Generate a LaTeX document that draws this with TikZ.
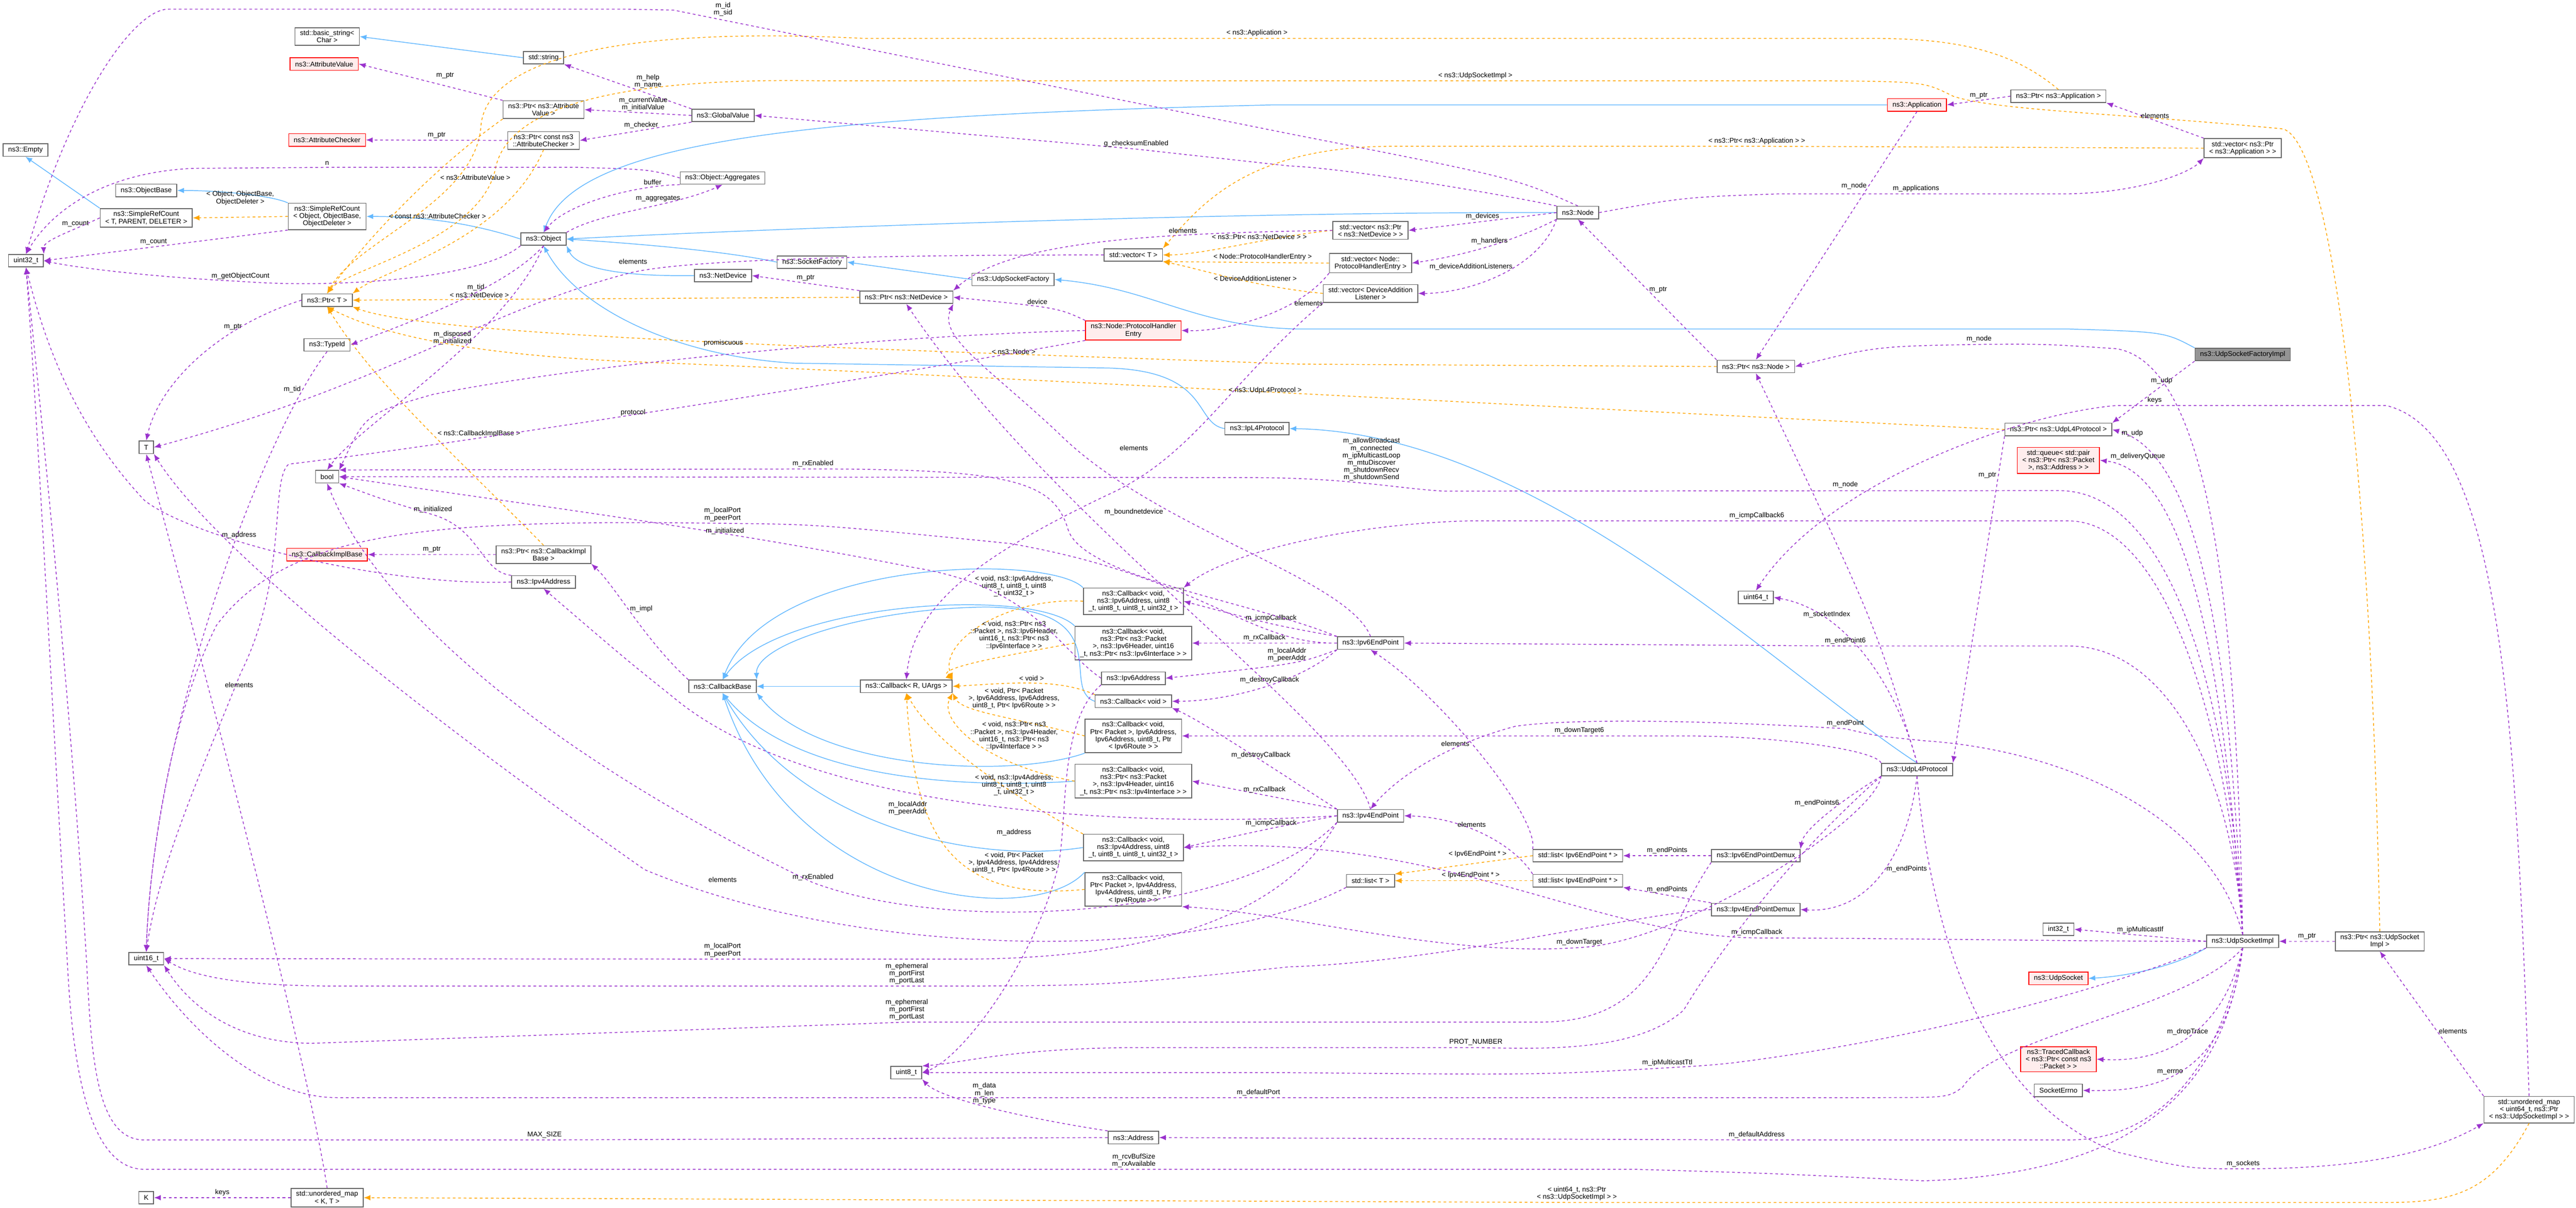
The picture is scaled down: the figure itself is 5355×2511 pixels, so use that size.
\documentclass[tikz,border=0pt]{standalone}
\usepackage{fontspec}
\setmainfont{Liberation Sans}
\usetikzlibrary{arrows.meta}
\definecolor{depc}{HTML}{9A32CD}
\definecolor{inhc}{HTML}{63B8FF}
\definecolor{tplc}{HTML}{FFA500}
\newcommand{\dfont}{\fontsize{4.1}{4.3}\selectfont}
\tikzset{
  box/.style={rectangle, draw=black!60, fill=white, font=\dfont, align=center, inner xsep=3pt, inner ysep=1.6pt, minimum height=0.26cm, line width=0.5pt},
  redbox/.style={box, draw=red, fill=red!7},
  curbox/.style={box, fill=black!42},
  use/.style={draw=depc, dashed, dash pattern=on 1.6pt off 1.6pt, line width=0.45pt, -{Latex[length=4pt,width=3.2pt]}},
  inh/.style={draw=inhc, line width=0.45pt, -{Latex[length=4pt,width=3.2pt]}},
  tpl/.style={draw=tplc, dashed, dash pattern=on 1.6pt off 1.6pt, line width=0.45pt, -{Latex[length=4pt,width=3.2pt]}},
  lbl/.style={font=\dfont, align=center, inner sep=1pt, text=black}
}
\begin{document}
\begin{tikzpicture}[x=0.01cm, y=0.01cm]
  \useasboundingbox (0,0) rectangle (5355,-2511);

  % left columns
  \node (bstr)    [box]    at (680,-76)   {std::basic\_string<\\Char >};
  \node (str)     [box]    at (1130,-120) {std::string};
  \node (attval)  [redbox] at (674,-133)  {ns3::AttributeValue};
  \node (pattval) [box]    at (1130,-228) {ns3::Ptr< ns3::Attribute\\Value >};
  \node (attchk)  [redbox] at (680,-291)  {ns3::AttributeChecker};
  \node (pattchk) [box]    at (1130,-292) {ns3::Ptr< const ns3\\::AttributeChecker >};
  \node (empty)   [box]    at (53,-312)   {ns3::Empty};
  \node (objbase) [box]    at (304,-396)  {ns3::ObjectBase};
  \node (srcT)    [box]    at (304,-453)  {ns3::SimpleRefCount\\< T, PARENT, DELETER >};
  \node (srcObj)  [box]    at (680,-450)  {ns3::SimpleRefCount\\< Object, ObjectBase,\\ObjectDeleter >};
  \node (obj)     [box]    at (1130,-497) {ns3::Object};
  \node (u32)     [box]    at (54,-542)   {uint32\_t};
  \node (ptrT)    [box]    at (680,-624)  {ns3::Ptr< T >};
  \node (typeid)  [box]    at (680,-717)  {ns3::TypeId};
  \node (T)       [box]    at (304,-930)  {T};
  \node (bool)    [box]    at (680,-991)  {bool};
  \node (cbimpl)  [redbox] at (680,-1153) {ns3::CallbackImplBase};
  \node (pcbimpl) [box]    at (1130,-1153) {ns3::Ptr< ns3::CallbackImpl\\Base >};
  \node (ip4addr) [box]    at (1130,-1210) {ns3::Ipv4Address};
  \node (u16)     [box]    at (304,-1993) {uint16\_t};
  \node (K)       [box]    at (304,-2490) {K};
  \node (umapKT)  [box]    at (680,-2490) {std::unordered\_map\\< K, T >};

  % middle columns
  \node (gval)    [box]    at (1503,-240) {ns3::GlobalValue};
  \node (aggr)    [box]    at (1502,-370) {ns3::Object::Aggregates};
  \node (sockfac) [box]    at (1688,-545) {ns3::SocketFactory};
  \node (netdev)  [box]    at (1503,-573) {ns3::NetDevice};
  \node (udpsf)   [box]    at (2106,-581) {ns3::UdpSocketFactory};
  \node (pnetdev) [box]    at (1884,-618) {ns3::Ptr< ns3::NetDevice >};
  \node (vecT)    [box]    at (2356,-530) {std::vector< T >};
  \node (phe)     [redbox] at (2356,-687) {ns3::Node::ProtocolHandler\\Entry};
  \node (ipl4)    [box]    at (2613,-891) {ns3::IpL4Protocol};
  \node (cbbase)  [box]    at (1502,-1427) {ns3::CallbackBase};
  \node (cbR)     [box]    at (1884,-1427) {ns3::Callback< R, UArgs >};
  \node (cb6icmp) [box]    at (2356,-1250) {ns3::Callback< void,\\ns3::Ipv6Address, uint8\\\_t, uint8\_t, uint8\_t, uint32\_t >};
  \node (cb6rx)   [box]    at (2356,-1337) {ns3::Callback< void,\\ns3::Ptr< ns3::Packet\\>, ns3::Ipv6Header, uint16\\\_t, ns3::Ptr< ns3::Ipv6Interface > >};
  \node (ip6addr) [box]    at (2356,-1410) {ns3::Ipv6Address};
  \node (cbvoid)  [box]    at (2356,-1458) {ns3::Callback< void >};
  \node (cb6route)[box]    at (2356,-1530) {ns3::Callback< void,\\Ptr< Packet >, Ipv6Address,\\Ipv6Address, uint8\_t, Ptr\\< Ipv6Route > >};
  \node (cb4rx)   [box]    at (2356,-1624) {ns3::Callback< void,\\ns3::Ptr< ns3::Packet\\>, ns3::Ipv4Header, uint16\\\_t, ns3::Ptr< ns3::Ipv4Interface > >};
  \node (cb4icmp) [box]    at (2356,-1762) {ns3::Callback< void,\\ns3::Ipv4Address, uint8\\\_t, uint8\_t, uint8\_t, uint32\_t >};
  \node (cb4route)[box]    at (2356,-1849) {ns3::Callback< void,\\Ptr< Packet >, Ipv4Address,\\Ipv4Address, uint8\_t, Ptr\\< Ipv4Route > >};
  \node (u8)      [box]    at (1884,-2230) {uint8\_t};
  \node (addr)    [box]    at (2356,-2365) {ns3::Address};

  % right columns
  \node (node)    [box]    at (3280,-442) {ns3::Node};
  \node (vecdev)  [box]    at (2849,-479) {std::vector< ns3::Ptr\\< ns3::NetDevice > >};
  \node (vechdl)  [box]    at (2849,-547) {std::vector< Node::\\ProtocolHandlerEntry >};
  \node (veclst)  [box]    at (2849,-610) {std::vector< DeviceAddition\\Listener >};
  \node (ep6)     [box]    at (2849,-1337) {ns3::Ipv6EndPoint};
  \node (ep4)     [box]    at (2849,-1696) {ns3::Ipv4EndPoint};
  \node (listT)   [box]    at (2849,-1831) {std::list< T >};
  \node (list6)   [box]    at (3280,-1779) {std::list< Ipv6EndPoint * >};
  \node (list4)   [box]    at (3280,-1831) {std::list< Ipv4EndPoint * >};
  \node (app)     [redbox] at (3985,-218) {ns3::Application};
  \node (pnode)   [box]    at (3650,-762) {ns3::Ptr< ns3::Node >};
  \node (u64)     [box]    at (3650,-1242) {uint64\_t};
  \node (demux6)  [box]    at (3650,-1779) {ns3::Ipv6EndPointDemux};
  \node (demux4)  [box]    at (3650,-1891) {ns3::Ipv4EndPointDemux};
  \node (udpl4)   [box]    at (3985,-1600) {ns3::UdpL4Protocol};
  \node (papp)    [box]    at (4279,-200) {ns3::Ptr< ns3::Application >};
  \node (vecapp)  [box]    at (4662,-308) {std::vector< ns3::Ptr\\< ns3::Application > >};
  \node (udpsfi)  [curbox] at (4662,-737) {ns3::UdpSocketFactoryImpl};
  \node (pudpl4)  [box]    at (4279,-893) {ns3::Ptr< ns3::UdpL4Protocol >};
  \node (queue)   [redbox] at (4279,-957) {std::queue< std::pair\\< ns3::Ptr< ns3::Packet\\>, ns3::Address > >};
  \node (i32)     [box]    at (4279,-1932) {int32\_t};
  \node (udpsock) [redbox] at (4279,-2034) {ns3::UdpSocket};
  \node (traced)  [redbox] at (4279,-2202) {ns3::TracedCallback\\< ns3::Ptr< const ns3\\::Packet > >};
  \node (errno)   [box]    at (4279,-2267) {SocketErrno};
  \node (sockimpl)[box]    at (4662,-1957) {ns3::UdpSocketImpl};
  \node (psockimpl)[box]   at (4947,-1957) {ns3::Ptr< ns3::UdpSocket\\Impl >};
  \node (umap)    [box, anchor=east] at (5352,-2307) {std::unordered\_map\\< uint64\_t, ns3::Ptr\\< ns3::UdpSocketImpl > >};

  % inheritance
  \draw [inh] (str.west) -- (bstr.east);
  \draw [inh] (srcT.north west) -- (empty.south);
  \draw [inh] (srcObj.north west) .. controls (560,-405) and (450,-396) .. (objbase.east);
  \draw [inh] (obj.west) .. controls (1000,-470) and (900,-450) .. (srcObj.east);
  \draw [inh] (app.west) -- (2650,-218) .. controls (1700,-240) and (1200,-290) .. (obj.north);
  \draw [inh] (node.west) .. controls (2500,-440) and (1500,-480) .. (obj.east);
  \draw [inh] (sockfac.west) .. controls (1500,-520) and (1300,-505) .. (obj.east);
  \draw [inh] (netdev.west) .. controls (1300,-575) and (1200,-560) .. (obj.south east);
  \draw [inh] (ipl4.west) .. controls (2480,-880) and (2520,-770) .. (2300,-765) -- (1650,-755) .. controls (1400,-740) and (1200,-640) .. (obj.south);
  \draw [inh] (udpsf.west) -- (sockfac.east);
  \draw [inh] (udpsfi.north west) .. controls (4500,-690) .. (4300,-684) -- (2700,-684) .. controls (2480,-680) and (2400,-600) .. (udpsf.east);
  \draw [inh] (udpl4.north) .. controls (3700,-1400) and (3200,-900) .. (ipl4.east);
  \draw [inh] (sockimpl.south west) .. controls (4520,-2010) and (4420,-2030) .. (udpsock.east);
  \draw [inh] (cbR.west) -- (cbbase.east);
  \draw [inh] (cb6icmp.north west) .. controls (2180,-1150) and (1600,-1160) .. (cbbase.north);
  \draw [inh] (cb6rx.north west) .. controls (2150,-1220) and (1620,-1250) .. (cbbase.north);
  \draw [inh] (cbvoid.west) .. controls (2200,-1430) and (2330,-1265) .. (2050,-1262) .. controls (1800,-1265) and (1570,-1340) .. (cbbase.north east);
  \draw [inh] (cb6route.south west) .. controls (2100,-1620) and (1700,-1600) .. (cbbase.south east);
  \draw [inh] (cb4rx.west) .. controls (2000,-1640) and (1650,-1620) .. (cbbase.south);
  \draw [inh] (cb4icmp.west) .. controls (2000,-1800) and (1650,-1700) .. (cbbase.south);
  \draw [inh] (cb4route.north west) .. controls (2150,-1930) and (1650,-1880) .. (cbbase.south);

  % templates
  \draw [tpl] (srcObj.west) -- node [lbl, above=6] {< Object, ObjectBase,\\ObjectDeleter >} (srcT.east);
  \draw [tpl] (pattval.south west) .. controls (900,-350) and (760,-500) .. node [lbl, pos=0.35, right=4] {< ns3::AttributeValue >} (ptrT.north);
  \draw [tpl] (pattchk.south) .. controls (1050,-500) and (800,-560) .. node [lbl, pos=0.3, left=2] {< const ns3::AttributeChecker >} (ptrT.north east);
  \draw [tpl] (pnetdev.west) -- node [lbl, pos=0.75, above] {< ns3::NetDevice >} (ptrT.east);
  \draw [tpl] (pnode.west) -- (2700,-757) .. controls (1800,-725) and (900,-700) .. (ptrT.south east);
  \path (2107,-731) node [lbl] {< ns3::Node >};
  \draw [tpl] (pudpl4.west) .. controls (3500,-860) and (1800,-770) .. (1340,-753) .. controls (1000,-740) and (800,-700) .. (ptrT.south);
  \path (2630,-812) node [lbl] {< ns3::UdpL4Protocol >};
  \draw [tpl] (pcbimpl.north) .. controls (950,-950) and (780,-800) .. node [lbl, pos=0.45, right=2] {< ns3::CallbackImplBase >} (ptrT.south);
  \draw [tpl] (papp.north) .. controls (4200,-120) and (4100,-80) .. (3900,-80) -- (2613,-80) node [lbl, above] {< ns3::Application >} -- (1800,-80) .. controls (1200,-50) and (1010,-150) .. (1000,-260) .. controls (990,-420) and (740,-500) .. (ptrT.north);
  \draw [tpl] (psockimpl.north) .. controls (4930,-1000) and (4850,-300) .. (4746,-268) .. controls (4400,-235) and (4150,-230) .. (4060,-200) .. controls (4000,-170) .. (3800,-168) -- (3067,-168) node [lbl, above] {< ns3::UdpSocketImpl >} -- (1700,-168) .. controls (1200,-160) and (1050,-250) .. (1030,-350) .. controls (1000,-500) and (720,-560) .. (ptrT.north);
  \draw [tpl] (vecdev.west) .. controls (2650,-490) and (2500,-530) .. node [lbl, pos=0.4, above] {< ns3::Ptr< ns3::NetDevice > >} (vecT.east);
  \draw [tpl] (vechdl.west) -- node [lbl, pos=0.4, above] {< Node::ProtocolHandlerEntry >} (vecT.south east);
  \draw [tpl] (veclst.west) .. controls (2600,-595) and (2500,-560) .. node [lbl, pos=0.35, above] {< DeviceAdditionListener >} (vecT.south east);
  \draw [tpl] (vecapp.west) -- (3652,-304) node [lbl, above] {< ns3::Ptr< ns3::Application > >} -- (2900,-304) .. controls (2600,-304) and (2500,-420) .. (vecT.north east);
  \draw [tpl] (cb6icmp.west) .. controls (2100,-1240) and (1950,-1330) .. (cbR.north east);
  \path (2108,-1219) node [lbl] {< void, ns3::Ipv6Address,\\uint8\_t, uint8\_t, uint8\\\_t, uint32\_t >};
  \draw [tpl] (cb6rx.west) .. controls (2050,-1370) and (1950,-1390) .. (cbR.north east);
  \path (2108,-1321) node [lbl] {< void, ns3::Ptr< ns3\\::Packet >, ns3::Ipv6Header,\\uint16\_t, ns3::Ptr< ns3\\::Ipv6Interface > >};
  \draw [tpl] (cbvoid.north west) .. controls (2200,-1410) and (2100,-1420) .. node [lbl, pos=0.5, above] {< void >} (cbR.east);
  \draw [tpl] (cb6route.west) .. controls (2100,-1490) and (2000,-1480) .. (cbR.south east);
  \path (2108,-1452) node [lbl] {< void, Ptr< Packet\\>, Ipv6Address, Ipv6Address,\\uint8\_t, Ptr< Ipv6Route > >};
  \draw [tpl] (cb4rx.west) .. controls (2050,-1590) and (1950,-1500) .. (cbR.south east);
  \path (2108,-1530) node [lbl] {< void, ns3::Ptr< ns3\\::Packet >, ns3::Ipv4Header,\\uint16\_t, ns3::Ptr< ns3\\::Ipv4Interface > >};
  \draw [tpl] (cb4icmp.north west) .. controls (2150,-1680) and (1950,-1560) .. (cbR.south);
  \path (2108,-1632) node [lbl] {< void, ns3::Ipv4Address,\\uint8\_t, uint8\_t, uint8\\\_t, uint32\_t >};
  \draw [tpl] (cb4route.west) .. controls (1950,-1880) and (1900,-1700) .. (cbR.south);
  \path (2108,-1794) node [lbl] {< void, Ptr< Packet\\>, Ipv4Address, Ipv4Address,\\uint8\_t, Ptr< Ipv4Route > >};
  \draw [tpl] (list6.west) -- node [lbl, pos=0.4, above=2] {< Ipv6EndPoint * >} (listT.north east);
  \draw [tpl] (list4.west) -- node [lbl, pos=0.45, above] {< Ipv4EndPoint * >} (listT.east);
  \draw [tpl] (umap.south) .. controls (5180,-2480) and (5100,-2500) .. (4960,-2500) -- (3278,-2500) node [lbl, above] {< uint64\_t, ns3::Ptr\\< ns3::UdpSocketImpl > >} -- (umapKT.east);

  % attribute and object members
  \draw [use] (pattval.north west) -- node [lbl, pos=0.4, above=3] {m\_ptr} (attval.east);
  \draw [use] (pattchk.west) -- node [lbl, above] {m\_ptr} (attchk.east);
  \draw [use] (gval.north west) -- node [lbl, pos=0.45, above right=-1] {m\_help\\m\_name} (str.south east);
  \draw [use] (gval.west) -- node [lbl, pos=0.45, above] {m\_currentValue\\m\_initialValue} (pattval.east);
  \draw [use] (gval.south west) -- node [lbl, pos=0.45, above] {m\_checker} (pattchk.east);
  \draw [use] (srcT.west) .. controls (150,-480) and (90,-500) .. node [lbl, pos=0.3, above] {m\_count} (u32.north east);
  \draw [use] (srcObj.south west) -- node [lbl, pos=0.55, above] {m\_count} (u32.east);
  \draw [use] (obj.south west) .. controls (1000,-580) and (700,-600) .. (500,-585) node [lbl, above] {m\_getObjectCount} .. controls (300,-575) and (150,-555) .. (u32.east);
  \draw [use] (obj.south) .. controls (1050,-600) and (850,-670) .. node [lbl, pos=0.4, above] {m\_tid} (typeid.east);
  \draw [use] (aggr.west) .. controls (1350,-352) .. (1200,-348) -- (680,-348) node [lbl, above] {n} -- (400,-350) .. controls (200,-360) and (100,-450) .. (u32.north);
  \draw [use] (aggr.south west) .. controls (1330,-385) and (1180,-420) .. node [lbl, pos=0.2, above] {buffer} (obj.north);
  \draw [use] (obj.north east) .. controls (1250,-440) and (1400,-430) .. node [lbl, pos=0.75, left] {m\_aggregates} (aggr.south);
  \draw [use] (obj.south) .. controls (1050,-700) and (750,-880) .. node [lbl, pos=0.35, left] {m\_disposed\\m\_initialized} (bool.north);
  \draw [use] (ptrT.west) .. controls (450,-680) and (330,-800) .. node [lbl, pos=0.3, above] {m\_ptr} (T.north);
  \draw [use] (typeid.south) .. controls (550,-900) and (320,-1500) .. node [lbl, pos=0.12, left] {m\_tid} (u16.north);
  \draw [use] (pcbimpl.west) -- node [lbl, above] {m\_ptr} (cbimpl.east);
  \draw [use] (cbbase.north west) .. controls (1340,-1330) and (1280,-1220) .. node [lbl, pos=0.55, right] {m\_impl} (pcbimpl.south east);
  \draw [use] (ip4addr.west) .. controls (800,-1220) and (400,-1120) .. (300,-1040) .. controls (150,-880) and (90,-700) .. (u32.south);
  \path (497,-1113) node [lbl] {m\_address};
  \draw [use] (ip4addr.north west) .. controls (1000,-1190) and (1000,-1100) .. (900,-1070) node [lbl, above] {m\_initialized} .. controls (800,-1040) .. (bool.south east);
  \draw [use] (ip6addr.west) .. controls (2200,-1350) and (2150,-1220) .. (1900,-1180) .. controls (1500,-1100) and (1100,-1050) .. (bool.east);
  \path (1507,-1104) node [lbl] {m\_initialized};
  \draw [use] (ip6addr.south west) .. controls (2200,-1500) and (2220,-1700) .. (2200,-1800) .. controls (2150,-2000) and (2000,-2200) .. (u8.east);
  \path (2108,-1731) node [lbl] {m\_address};
  \draw [use] (addr.north west) .. controls (2100,-2320) and (1950,-2280) .. node [lbl, pos=0.5, above] {m\_data\\m\_len\\m\_type} (u8.south east);
  \draw [use] (addr.west) -- (1132,-2370) node [lbl, above] {MAX\_SIZE} -- (300,-2370) .. controls (200,-2370) and (190,-2200) .. (180,-2000) .. controls (150,-1500) and (90,-900) .. (u32.south);

  % Node members
  \draw [use] (node.north) .. controls (3150,-370) .. (2680,-278) -- (1400,-21) .. controls (1350,-19) .. (1300,-19) -- (350,-19) .. controls (280,-19) and (150,-200) .. (u32.north);
  \path (1503,-19) node [lbl] {m\_id\\m\_sid};
  \draw [use] (node.north west) .. controls (3100,-400) and (2800,-350) .. (2680,-345) -- (2362,-310) node [lbl, above] {g\_checksumEnabled} -- (gval.east);
  \draw [use] (node.west) -- node [lbl, pos=0.5, above] {m\_devices} (vecdev.east);
  \draw [use] (node.south west) .. controls (3150,-500) and (3050,-530) .. node [lbl, pos=0.5, above] {m\_handlers} (vechdl.east);
  \draw [use] (node.south west) .. controls (3200,-560) and (3050,-610) .. node [lbl, pos=0.4, left] {m\_deviceAdditionListeners} (veclst.east);
  \draw [use] (node.east) .. controls (3500,-410) .. (3700,-403) -- (3983,-403) node [lbl, above] {m\_applications} -- (4300,-403) .. controls (4450,-400) and (4550,-360) .. (vecapp.south west);
  \draw [use] (app.south) -- node [lbl, pos=0.3, left] {m\_node} (pnode.north);
  \draw [use] (papp.west) -- node [lbl, above] {m\_ptr} (app.east);
  \draw [use] (vecapp.north west) -- node [lbl, pos=0.5, above] {elements} (papp.south east);
  \draw [use] (pnode.north west) -- node [lbl, pos=0.5, right] {m\_ptr} (node.south);
  \draw [use] (pnetdev.north west) -- node [lbl, above] {m\_ptr} (netdev.east);
  \draw [use] (vecdev.west) .. controls (2400,-485) and (2100,-500) .. node [lbl, pos=0.3, above] {elements} (pnetdev.north east);
  \draw [use] (phe.north west) .. controls (2200,-640) .. node [lbl, pos=0.6, above] {device} (pnetdev.east);
  \draw [use] (phe.west) .. controls (1800,-700) and (1200,-760) .. (900,-820) .. controls (760,-860) .. (bool.north east);
  \path (1504,-713) node [lbl] {promiscuous};
  \draw [use] (phe.south west) .. controls (1800,-790) and (900,-930) .. (600,-965) .. controls (560,-1000) and (600,-1200) .. (500,-1400) .. controls (420,-1600) and (330,-1800) .. (u16.north);
  \path (1316,-858) node [lbl] {protocol};
  \draw [use] (veclst.south west) .. controls (2550,-800) and (2480,-950) .. (2300,-1030) .. controls (2050,-1150) and (1900,-1250) .. (cbR.north);
  \path (2357,-931) node [lbl] {elements};
  \draw [use] (vechdl.south west) .. controls (2700,-650) and (2550,-690) .. node [lbl, pos=0.3, right] {elements} (phe.east);
  \draw [use] (vecT.west) .. controls (1800,-530) and (1400,-540) .. (1300,-570) .. controls (1000,-650) and (800,-800) .. (T.east);
  \path (1316,-544) node [lbl] {elements};
  \draw [use] (listT.south west) .. controls (2500,-2000) and (1800,-2000) .. (1340,-1808) .. controls (900,-1500) and (450,-1150) .. (T.south east);
  \path (1502,-1829) node [lbl] {elements};
  \draw [use] (umapKT.north) .. controls (640,-2200) and (400,-1300) .. (T.south);
  \path (497,-1424) node [lbl] {elements};
  \draw [use] (umapKT.west) -- node [lbl, above] {keys} (K.east);

  % end points
  \draw [use] (ep6.south west) .. controls (2700,-1380) .. node [lbl, pos=0.5, above] {m\_localAddr\\m\_peerAddr} (ip6addr.east);
  \draw [use] (ep6.west) -- node [lbl, pos=0.5, above] {m\_rxCallback} (cb6rx.east);
  \draw [use] (ep6.north west) .. controls (2650,-1300) .. node [lbl, pos=0.5, above] {m\_icmpCallback} (cb6icmp.east);
  \draw [use] (ep6.south west) .. controls (2700,-1420) and (2550,-1458) .. node [lbl, pos=0.45, above] {m\_destroyCallback} (cbvoid.east);
  \draw [use] (ep6.north) .. controls (2800,-1200) and (2400,-1100) .. (2200,-900) .. controls (2050,-760) and (1950,-700) .. (pnetdev.south east);
  \path (2357,-1064) node [lbl] {m\_boundnetdevice};
  \draw [use] (ep6.north west) .. controls (2600,-1250) and (2250,-1200) .. (2220,-1100) .. controls (2190,-1000) and (2100,-975) .. (1690,-975) node [lbl, above] {m\_rxEnabled} -- (bool.north east);
  \draw [use] (ep6.west) .. controls (2600,-1340) and (2500,-1200) .. (2100,-1130) .. controls (1700,-1090) .. (1502,-1088) node [lbl, above] {m\_localPort\\m\_peerPort} .. controls (900,-1080) and (600,-1100) .. (450,-1300) .. controls (350,-1500) and (310,-1800) .. (u16.north);
  \draw [use] (ep4.west) .. controls (2400,-1720) and (1700,-1700) .. (1400,-1450) .. controls (1300,-1370) .. (ip4addr.south);
  \path (1887,-1680) node [lbl] {m\_localAddr\\m\_peerAddr};
  \draw [use] (ep4.south west) .. controls (2700,-1850) and (2500,-1994) .. (2000,-1994) -- (1502,-1994) node [lbl, above] {m\_localPort\\m\_peerPort} -- (u16.east);
  \draw [use] (ep4.south west) .. controls (2600,-1900) and (2000,-1950) .. (1690,-1835) node [lbl, above] {m\_rxEnabled} .. controls (1200,-1600) and (800,-1300) .. (bool.south);
  \draw [use] (ep4.north) .. controls (2800,-1500) and (2200,-1100) .. (pnetdev.south);
  \draw [use] (ep4.west) .. controls (2650,-1720) .. node [lbl, pos=0.5, above] {m\_icmpCallback} (cb4icmp.east);
  \draw [use] (ep4.north west) -- node [lbl, pos=0.5, above] {m\_rxCallback} (cb4rx.east);
  \draw [use] (ep4.north west) .. controls (2650,-1600) and (2500,-1500) .. node [lbl, pos=0.4, above] {m\_destroyCallback} (cbvoid.south east);
  \draw [use] (list6.north west) .. controls (3200,-1700) and (3000,-1450) .. node [lbl, pos=0.55, left] {elements} (ep6.south);
  \draw [use] (list4.north west) .. controls (3150,-1760) and (3050,-1700) .. node [lbl, pos=0.6, above] {elements} (ep4.east);
  \draw [use] (demux6.west) -- node [lbl, above] {m\_endPoints} (list6.east);
  \draw [use] (demux4.north west) -- node [lbl, above] {m\_endPoints} (list4.south east);
  \draw [use] (demux6.south west) .. controls (3450,-1950) and (3450,-2125) .. (3200,-2125) -- (1885,-2125) node [lbl, above] {m\_ephemeral\\m\_portFirst\\m\_portLast} -- (650,-2169) .. controls (500,-2169) and (400,-2100) .. (u16.south east);
  \draw [use] (demux4.west) .. controls (3400,-1900) and (3000,-2000) .. (2680,-2010) .. controls (2300,-2050) .. (1885,-2050) node [lbl, above] {m\_ephemeral\\m\_portFirst\\m\_portLast} -- (700,-2050) .. controls (500,-2050) and (400,-2030) .. (u16.east);

  % UdpL4Protocol members
  \draw [use] (udpsfi.south west) -- node [lbl, pos=0.4, above] {m\_udp} (pudpl4.north east);
  \draw [use] (pudpl4.south west) -- node [lbl, pos=0.12, left] {m\_ptr} (udpl4.north east);
  \draw [use] (udpl4.north) .. controls (3900,-1300) .. (pnode.south);
  \path (3836,-1008) node [lbl] {m\_node};
  \draw [use] (udpl4.north) .. controls (3950,-1450) and (3850,-1270) .. node [lbl, pos=0.75, above] {m\_socketIndex} (u64.east);
  \draw [use] (udpl4.south west) .. controls (3850,-1650) and (3750,-1720) .. node [lbl, pos=0.4, left] {m\_endPoints6} (demux6.north east);
  \draw [use] (udpl4.south) .. controls (3970,-1750) and (3900,-1900) .. node [lbl, pos=0.5, right] {m\_endPoints} (demux4.east);
  \draw [use] (udpl4.north west) .. controls (3900,-1560) and (3700,-1530) .. (3500,-1530) -- (3283,-1530) node [lbl, above] {m\_downTarget6} -- (cb6route.east);
  \draw [use] (udpl4.south west) .. controls (3900,-1700) and (3500,-1960) .. (3283,-1970) node [lbl, above] {m\_downTarget} .. controls (3000,-1990) and (2700,-1900) .. (cb4route.south east);
  \draw [use] (udpl4.south west) .. controls (3700,-1800) and (3560,-2000) .. (3500,-2100) .. controls (3400,-2190) and (3200,-2180) .. (3068,-2178) node [lbl, above] {PROT\_NUMBER} -- (2350,-2178) .. controls (2100,-2180) and (2000,-2210) .. (u8.north east);
  \draw [use] (udpl4.south) .. controls (4020,-2000) and (4150,-2300) .. (4400,-2395) .. controls (4550,-2430) .. (4663,-2430) node [lbl, above] {m\_sockets} .. controls (4900,-2430) and (5050,-2400) .. (umap.south west);

  % UdpSocketImpl members
  \draw [use] (umap.north west) -- node [lbl, pos=0.45, right] {elements} (psockimpl.south);
  \draw [use] (umap.north) .. controls (5230,-1500) and (5200,-900) .. (4960,-843) -- (4479,-843) node [lbl, above] {keys} -- (4400,-843) .. controls (4200,-860) and (3800,-1000) .. (u64.north);
  \draw [use] (psockimpl.west) -- node [lbl, above] {m\_ptr} (sockimpl.east);
  \draw [use] (sockimpl.west) -- node [lbl, above] {m\_ipMulticastIf} (i32.east);
  \draw [use] (sockimpl.south) .. controls (4620,-2150) and (4500,-2210) .. node [lbl, pos=0.5, above] {m\_dropTrace} (traced.east);
  \draw [use] (sockimpl.south) .. controls (4630,-2230) and (4500,-2270) .. node [lbl, pos=0.6, above] {m\_errno} (errno.east);
  \draw [use] (sockimpl.north) .. controls (4640,-1500) and (4600,-950) .. node [lbl, pos=0.93, above] {m\_udp} (pudpl4.east);
  \draw [use] (sockimpl.north) .. controls (4630,-1500) and (4570,-980) .. node [lbl, pos=0.97, above right] {m\_deliveryQueue} (queue.east);
  \draw [use] (sockimpl.north) .. controls (4650,-1300) and (4600,-760) .. (4400,-725) .. controls (4250,-715) .. (4114,-716) node [lbl, above] {m\_node} .. controls (3900,-720) .. (pnode.east);
  \draw [use] (sockimpl.north) .. controls (4640,-1600) and (4500,-1343) .. (4300,-1343) -- (3836,-1343) node [lbl, above] {m\_endPoint6} -- (ep6.east);
  \draw [use] (sockimpl.north) .. controls (4630,-1400) and (4500,-1020) .. (4280,-1020) -- (3000,-1021) .. controls (2900,-1015) and (2800,-993) .. (2600,-993) -- (bool.east);
  \path (2851,-955) node [lbl] {m\_allowBroadcast\\m\_connected\\m\_ipMulticastLoop\\m\_mtuDiscover\\m\_shutdownRecv\\m\_shutdownSend};
  \draw [use] (sockimpl.north) .. controls (4630,-1500) and (4500,-1083) .. (4300,-1083) -- (3652,-1083) node [lbl, above] {m\_icmpCallback6} -- (3050,-1083) .. controls (2800,-1090) and (2550,-1150) .. (cb6icmp.north east);
  \draw [use] (sockimpl.west) .. controls (4300,-1957) and (3900,-1950) .. (3652,-1950) node [lbl, above] {m\_icmpCallback} .. controls (3300,-1945) and (3000,-1730) .. (cb4icmp.east);
  \draw [use] (sockimpl.north) .. controls (4600,-1700) and (4300,-1560) .. (4000,-1540) .. controls (3900,-1530) .. (3836,-1515) node [lbl, above] {m\_endPoint} .. controls (3500,-1495) and (3250,-1495) .. (3150,-1510) .. controls (3000,-1550) and (2900,-1620) .. (ep4.north);
  \draw [use] (sockimpl.south west) .. controls (4400,-2050) and (4000,-2160) .. (3600,-2210) .. controls (3550,-2215) .. (3466,-2220) node [lbl, above] {m\_ipMulticastTtl} .. controls (3200,-2235) .. (2680,-2230) -- (u8.east);
  \draw [use] (sockimpl.south) .. controls (4550,-2100) and (4150,-2150) .. (4080,-2260) .. controls (4050,-2282) .. (3900,-2282) -- (2616,-2282) node [lbl, above] {m\_defaultPort} -- (700,-2282) .. controls (550,-2282) and (400,-2150) .. (u16.south);
  \draw [use] (sockimpl.south) .. controls (4620,-2200) and (4500,-2370) .. (4300,-2370) -- (3652,-2370) node [lbl, above] {m\_defaultAddress} -- (addr.east);
  \draw [use] (sockimpl.south) .. controls (4620,-2300) and (4400,-2440) .. (4000,-2455) .. controls (3700,-2440) .. (3400,-2431) -- (2357,-2431) node [lbl, above] {m\_rcvBufSize\\m\_rxAvailable} -- (300,-2431) .. controls (180,-2431) and (150,-2200) .. (140,-2000) .. controls (110,-1500) and (80,-900) .. (u32.south);

\end{tikzpicture}
\end{document}
